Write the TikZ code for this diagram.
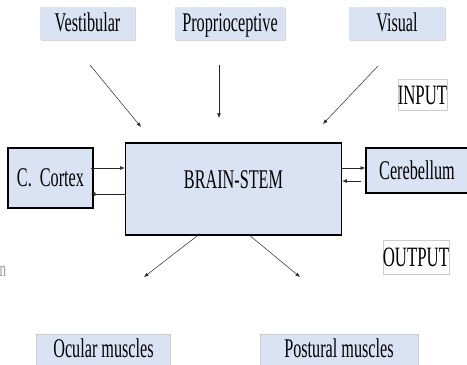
\documentclass[tikz,border=0pt]{standalone}
\usepackage{fontspec}
\setmainfont[FakeStretch=0.6]{Liberation Serif}
\usepackage{tikz}
\usetikzlibrary{arrows.meta,positioning,shadows}
\definecolor{paleblue}{HTML}{DAE3F3}

\begin{document}
\begin{tikzpicture}[x=1pt, y=-1pt, inner sep=0pt, font=\fontsize{27}{29}\selectfont, sense/.style={fill=paleblue, minimum height=33pt, text height=19pt, text depth=4pt, drop shadow={shadow xshift=1pt, shadow yshift=-1pt, fill=black!15, opacity=1}}, part/.style={draw, fill=paleblue, line width=1.4pt}, muscle/.style={fill=paleblue, draw=black!20, minimum height=32pt, text height=19pt, text depth=5pt}, tag/.style={draw=black!20, font=\fontsize{28}{30}\selectfont, minimum height=31pt}, arr/.style={-{Latex[length=1.6mm, width=1.3mm]}, black!85, line width=0.5pt}]
\useasboundingbox (0,0) rectangle (467,365);
% inputs
\node[sense, minimum width=95pt] (vest) at (87.5,23.5) {Vestibular};
\node[sense, minimum width=110pt] (prop) at (230,23.5) {Proprioceptive};
\node[sense, minimum width=96pt] (vis) at (397,23.5) {Visual};
\node[tag, minimum width=49pt] (input) at (422.5,95) {INPUT};
% centre
\node[part, minimum width=216pt, minimum height=92pt] (brain) at (233.5,189) {\raisebox{18pt}{BRAIN-STEM}};
\node[part, minimum width=85pt, minimum height=60pt] (cortex) at (50.5,178) {C.~~Cortex};
\node[part, minimum width=110pt, minimum height=45pt] (cereb) at (421,170.5) {\hspace*{-8pt}Cerebellum};
% outputs
\node[tag, minimum width=64pt, minimum height=34pt] (output) at (416,257) {OUTPUT};
\node[muscle, minimum width=134pt] (ocular) at (103.5,350) {Ocular muscles};
\node[muscle, minimum width=158pt] (postural) at (339,350) {Postural muscles};
\node[text=black!40, font=\fontsize{22}{24}\selectfont] (frag) at (3,271) {n};
% free arrow ends
\coordinate (vest-a) at (90,65); \coordinate (vest-b) at (141,127);
\coordinate (prop-a) at (219,65); \coordinate (prop-b) at (219,118);
\coordinate (vis-a) at (378,66); \coordinate (vis-b) at (323,124);
\coordinate (ocular-b) at (144,277); \coordinate (postural-b) at (300,277);
\draw[arr] (vest-a) -- (vest-b); \draw[arr] (prop-a) -- (prop-b); \draw[arr] (vis-a) -- (vis-b);
\draw[arr] ([xshift=-3pt, yshift=10pt]cortex.east) -- ([yshift=21pt]brain.west);
\draw[arr] ([yshift=-5pt]brain.west) -- ([xshift=-3pt, yshift=-16pt]cortex.east);
\draw[arr] ([yshift=21pt]brain.east) -- ([yshift=2.5pt]cereb.west);
\draw[arr] ([xshift=-4pt, yshift=-10.5pt]cereb.west) -- ([yshift=8pt]brain.east);
\draw[arr] ([xshift=-33.5pt, yshift=2pt]brain.south) -- (ocular-b);
\draw[arr] ([xshift=16.5pt]brain.south) -- (postural-b);
\end{tikzpicture}
\end{document}
